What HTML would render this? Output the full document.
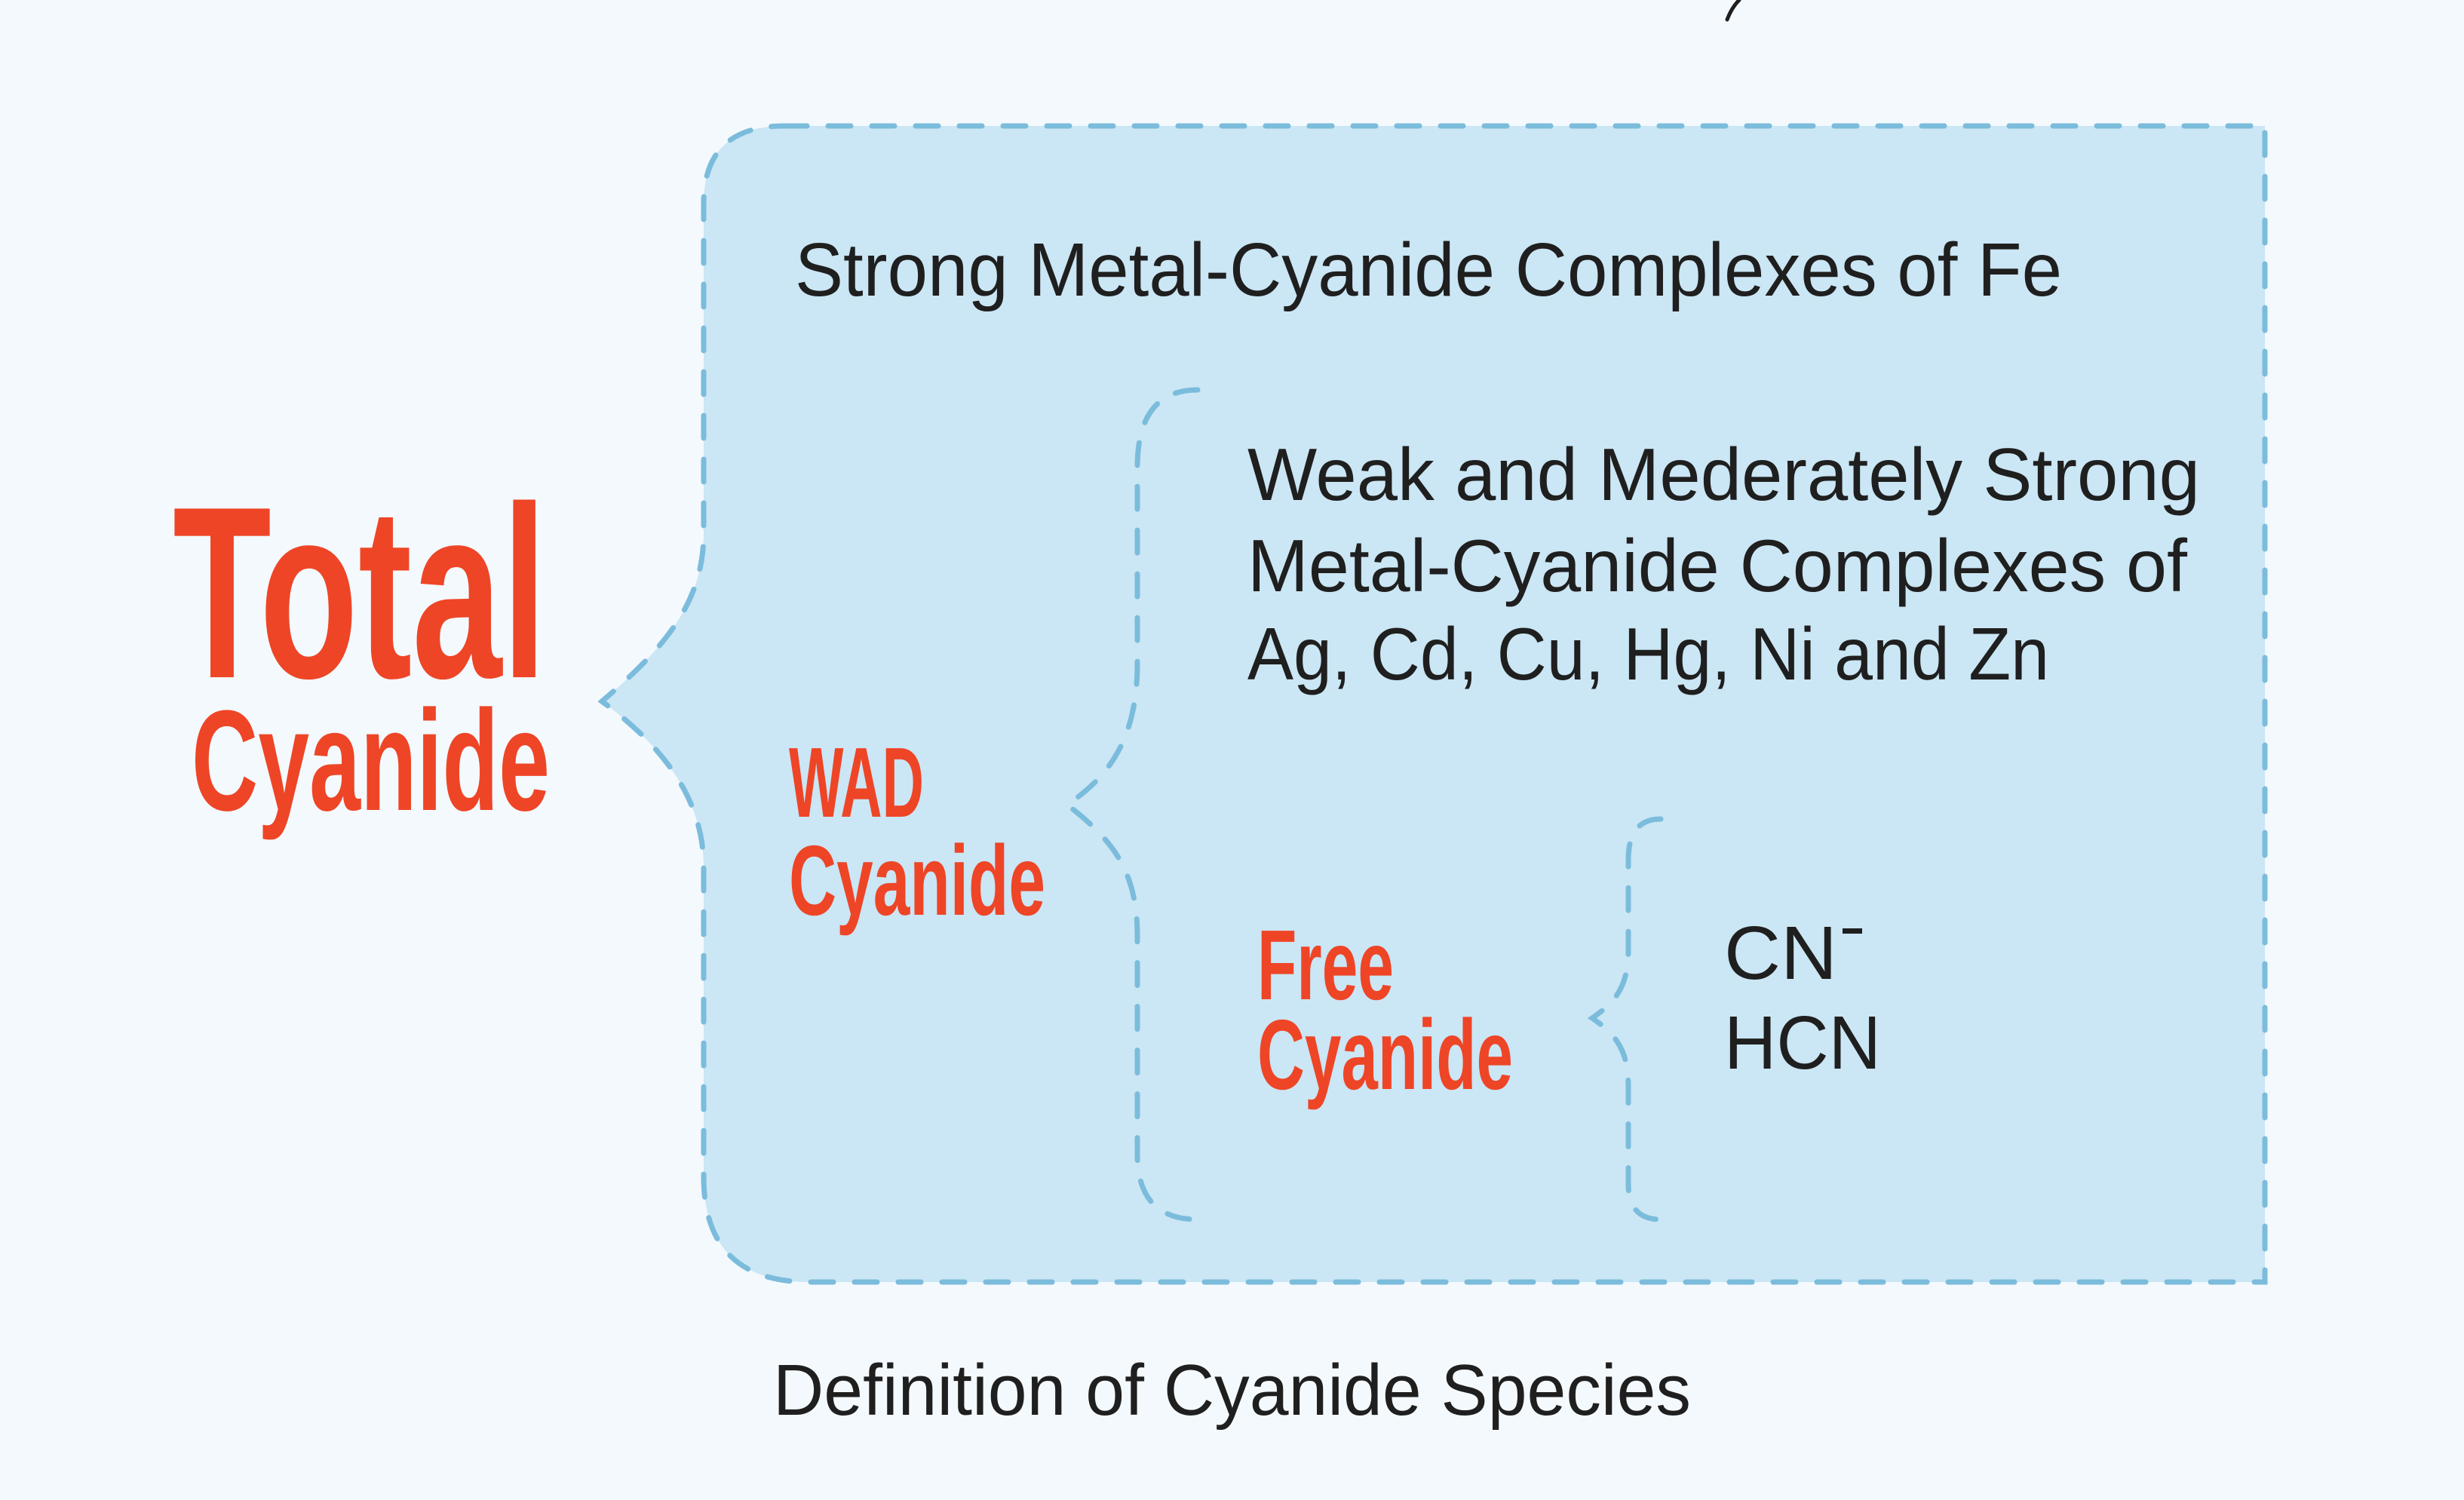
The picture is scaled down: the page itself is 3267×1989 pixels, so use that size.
<!DOCTYPE html>
<html><head><meta charset="utf-8"><style>
html,body{margin:0;padding:0;background:#f4f9fd;}
svg{display:block;}
</style></head><body>
<svg width="3267" height="1989" viewBox="0 0 3267 1989" xmlns="http://www.w3.org/2000/svg">
<rect width="3267" height="1989" fill="#f4f9fd"/>
<path d="M2290 26 Q2296 10 2306 0" fill="none" stroke="#1f1f1f" stroke-width="5" stroke-linecap="round"/>
<path d="M1040 167 L3003 167 L3003 1700 L1073 1700 Q933 1700 933 1560 L933 1150 C933 1060 880 990 798 930 C880 860 933 800 933 707 L933 270 Q933 167 1040 167 Z" fill="#cbe6f4" stroke="#7bbcdc" stroke-width="7" stroke-dasharray="30 28" stroke-linecap="round"/>
<path d="M1588 517 Q1508 517 1508 620 L1508 880 C1508 980 1470 1030 1415 1067 C1470 1110 1508 1150 1508 1240 L1508 1530 Q1508 1617 1588 1617" fill="none" stroke="#7bbcdc" stroke-width="7" stroke-dasharray="30 28" stroke-linecap="round"/>
<path d="M2202 1086 Q2159 1086 2159 1140 L2159 1260 C2159 1310 2140 1330 2111 1350 C2140 1370 2159 1390 2159 1440 L2159 1570 Q2159 1617 2202 1617" fill="none" stroke="#7bbcdc" stroke-width="7" stroke-dasharray="30 28" stroke-linecap="round"/>
<g font-family="'Liberation Sans Narrow','Liberation Sans',sans-serif" font-weight="bold" fill="#ee4527">
<text x="229" y="898" font-size="325" textLength="496" lengthAdjust="spacingAndGlyphs">Total</text>
<text x="254" y="1074" font-size="190" textLength="475" lengthAdjust="spacingAndGlyphs">Cyanide</text>
<text x="1046" y="1083" font-size="132" textLength="179" lengthAdjust="spacingAndGlyphs">WAD</text>
<text x="1046" y="1213" font-size="132" textLength="340" lengthAdjust="spacingAndGlyphs">Cyanide</text>
<text x="1667" y="1325" font-size="132" textLength="181" lengthAdjust="spacingAndGlyphs">Free</text>
<text x="1667" y="1444" font-size="132" textLength="339" lengthAdjust="spacingAndGlyphs">Cyanide</text>
</g>
<g font-family="'Liberation Sans',sans-serif" fill="#1f1f1f">
<text x="1054" y="392" font-size="100" textLength="1680" lengthAdjust="spacingAndGlyphs">Strong Metal-Cyanide Complexes of Fe</text>
<text x="1654" y="663" font-size="98" textLength="1263" lengthAdjust="spacingAndGlyphs">Weak and Mederately Strong</text>
<text x="1654" y="784" font-size="98" textLength="1246" lengthAdjust="spacingAndGlyphs">Metal-Cyanide Complexes of</text>
<text x="1654" y="901" font-size="98" textLength="1063" lengthAdjust="spacingAndGlyphs">Ag, Cd, Cu, Hg, Ni and Zn</text>
<text x="2286" y="1298" font-size="100" textLength="150" lengthAdjust="spacingAndGlyphs">CN</text>
<rect x="2443" y="1231" width="26" height="7" fill="#1f1f1f"/>
<text x="2286" y="1417" font-size="100" textLength="208" lengthAdjust="spacingAndGlyphs">HCN</text>
<text x="1025" y="1876" font-size="96" textLength="1217" lengthAdjust="spacingAndGlyphs">Definition of Cyanide Species</text>
</g>
</svg>
</body></html>
